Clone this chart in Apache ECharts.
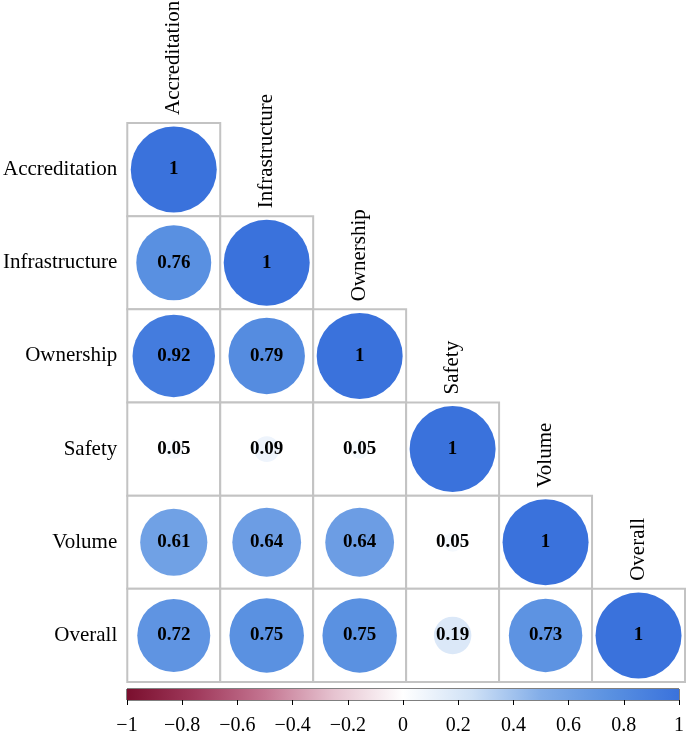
<!DOCTYPE html>
<html>
<head>
<meta charset="utf-8">
<script src="https://cdn.jsdelivr.net/npm/echarts@6/dist/echarts.min.js"></script>
<style>
  html, body { margin: 0; padding: 0; background: #fff; }
  #container { width: 687px; height: 736px; }
</style>
</head>
<body>
<div id="container"></div>
<script>
// variables, same order for rows and columns
var variables = ['Accreditation', 'Infrastructure', 'Ownership', 'Safety', 'Volume', 'Overall'];

// lower triangle of the correlation matrix, row by row
var corrRows = [
  [1],
  [0.76, 1],
  [0.92, 0.79, 1],
  [0.05, 0.09, 0.05, 1],
  [0.61, 0.64, 0.64, 0.05, 1],
  [0.72, 0.75, 0.75, 0.19, 0.73, 1]
];

// colour scale from -1 to 1, evenly spaced stops
var colorStops = ['#7a0f2e', '#a03a5c', '#c47591', '#e6c3d0', '#ffffff',
                  '#cfe1f6', '#82ade8', '#5a91e1', '#3a72dc'];
var barTicks = [-1, -0.8, -0.6, -0.4, -0.2, 0, 0.2, 0.4, 0.6, 0.8, 1];

var FONT = '"Liberation Serif", "Times New Roman", serif';

var points = [];
var cells = [];
var diag = [];
corrRows.forEach(function (row, i) {
  row.forEach(function (v, j) {
    points.push([j, i, v]);
    cells.push([j, i]);
    if (i === j) diag.push([j, i]);
  });
});

function halfGradient(cols) {
  return new echarts.graphic.LinearGradient(0, 0, 1, 0, cols.map(function (c, k) {
    return {offset: k / (cols.length - 1), color: c};
  }));
}

var chart = echarts.init(document.getElementById('container'));

var option = {
  backgroundColor: '#fff',
  animation: false,
  grid: [
    {left: 127, top: 123, width: 558, height: 559},
    {left: 127, top: 689, width: 558, height: 19, show: true, borderColor: '#000', borderWidth: 1, backgroundColor: 'transparent'}
  ],
  xAxis: [
    {gridIndex: 0, type: 'category', data: variables, show: false},
    {
      gridIndex: 1, type: 'value', min: barTicks[0], max: barTicks[barTicks.length - 1], interval: 0.2,
      axisLine: {show: false},
      splitLine: {show: false},
      axisTick: {show: true, length: 5, lineStyle: {color: '#000', width: 1}},
      axisLabel: {
        margin: 16, color: '#000', fontFamily: FONT, fontSize: 20,
        formatter: function (v) {
          var r = Math.round(v * 10) / 10;
          return r < 0 ? '\u2212' + Math.abs(r) : String(r);
        }
      }
    }
  ],
  yAxis: [
    {
      gridIndex: 0, type: 'category', data: variables, inverse: true,
      axisLine: {show: false}, axisTick: {show: false}, splitLine: {show: false},
      axisLabel: {margin: 10, color: '#000', fontFamily: FONT, fontSize: 21}
    },
    {gridIndex: 1, type: 'category', data: [''], show: false}
  ],
  visualMap: {
    show: false, type: 'continuous', min: -1, max: 1, dimension: 2,
    seriesIndex: 1, inRange: {color: colorStops}
  },
  series: [
    {
      // cell frames
      type: 'custom', xAxisIndex: 0, yAxisIndex: 0, data: cells, z: 1,
      renderItem: function (params, api) {
        var c = api.coord([api.value(0), api.value(1)]);
        var s = api.size([1, 1]);
        return {
          type: 'rect',
          shape: {x: c[0] - s[0] / 2, y: c[1] - s[1] / 2, width: s[0], height: s[1]},
          style: {fill: '#fff', stroke: '#c3c3c3', lineWidth: 2}
        };
      }
    },
    {
      type: 'scatter', xAxisIndex: 0, yAxisIndex: 0, data: points, z: 3,
      symbol: 'circle',
      symbolSize: function (val) { return 86 * Math.sqrt(Math.abs(val[2])); },
      itemStyle: {opacity: 1},
      label: {
        show: true, position: 'inside', color: '#000', fontFamily: FONT,
        fontWeight: 'bold', fontSize: 19,
        formatter: function (p) { return String(p.value[2]); }
      }
    },
    {
      // column names above the diagonal
      type: 'custom', xAxisIndex: 0, yAxisIndex: 0, data: diag, z: 4,
      renderItem: function (params, api) {
        var c = api.coord([api.value(0), api.value(1)]);
        var s = api.size([1, 1]);
        return {
          type: 'text',
          x: c[0], y: c[1] - s[1] / 2 - 8,
          rotation: Math.PI / 2,
          style: {
            text: variables[api.value(0)], x: 0, y: 0,
            align: 'left', verticalAlign: 'middle',
            fill: '#000', font: '21px ' + FONT
          }
        };
      }
    },
    {
      type: 'bar', xAxisIndex: 1, yAxisIndex: 1, data: [barTicks[0]], barWidth: '100%',
      itemStyle: {color: halfGradient(colorStops.slice(0, 5))}, silent: true
    },
    {
      type: 'bar', xAxisIndex: 1, yAxisIndex: 1, data: [barTicks[barTicks.length - 1]], barWidth: '100%', barGap: '-100%',
      itemStyle: {color: halfGradient(colorStops.slice(4))}, silent: true
    }
  ]
};

chart.setOption(option);
</script>
</body>
</html>
